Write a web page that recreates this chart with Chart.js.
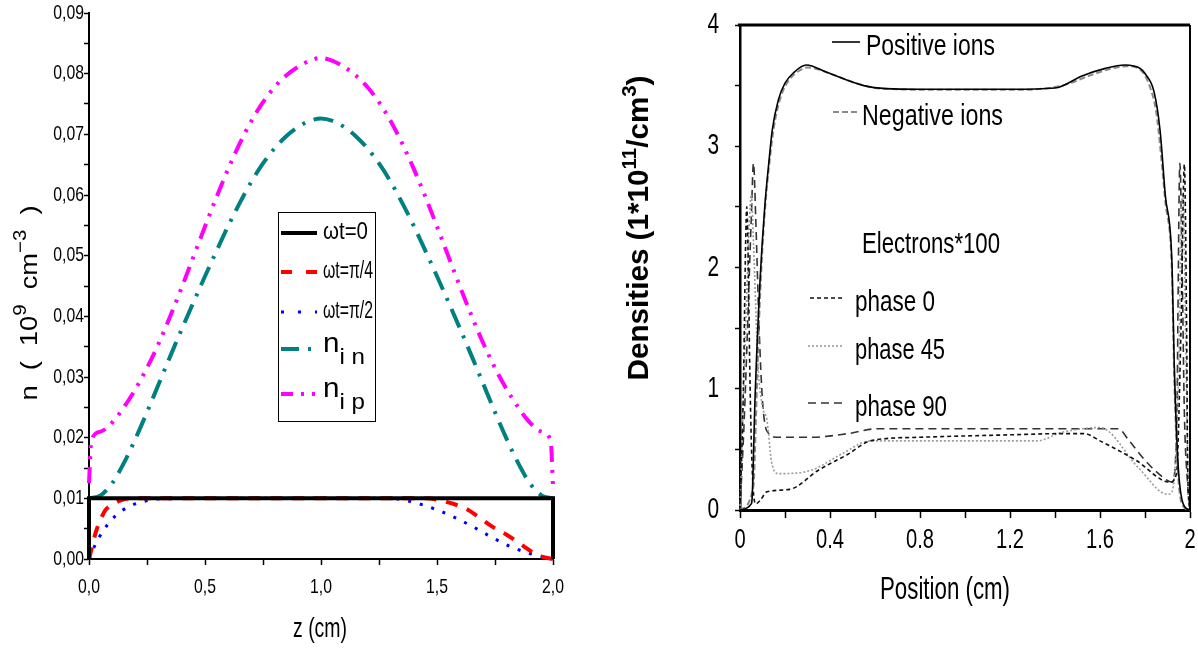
<!DOCTYPE html>
<html>
<head>
<meta charset="utf-8">
<script src="https://cdn.jsdelivr.net/npm/chart.js@4.4.1/dist/chart.umd.min.js"></script>
<style>
  body { margin: 0; background: #fff; }
  #left { position: absolute; left: 0; top: 0; width: 600px; height: 650px; }
  #right { position: absolute; left: 600px; top: 0; width: 598px; height: 650px; }
</style>
</head>
<body>
<div id="left"><canvas id="c1" width="600" height="650"></canvas></div>
<div id="right"><canvas id="c2" width="598" height="650"></canvas></div>
<script>
// ---- left panel data: n (10^9 cm^-3) vs z (cm)
const zWt0 = [0, 0, 2, 2];
const nWt0 = [0, 0.01, 0.01, 0];

const zPi4 = [0, 0.01, 0.03, 0.05, 0.07, 0.09, 0.11, 0.14, 0.19, 0.3, 0.6, 1.0, 1.3, 1.45, 1.5, 1.56, 1.62, 1.68, 1.74, 1.8, 1.87, 1.92, 1.96, 2.0];
const nPi4 = [0, 0.0015, 0.0045, 0.0065, 0.008, 0.0087, 0.0092, 0.0097, 0.01, 0.01, 0.01, 0.01, 0.01, 0.01, 0.0098, 0.0092, 0.0084, 0.0069, 0.0053, 0.004, 0.0022, 0.0009, 0.0003, 0];

const zPi2 = [0, 0.02, 0.04, 0.064, 0.1, 0.144, 0.18, 0.22, 0.3, 0.6, 1.0, 1.3, 1.37, 1.44, 1.52, 1.59, 1.67, 1.74, 1.82, 1.9, 1.98, 2.0];
const nPi2 = [0, 0.0018, 0.0033, 0.0048, 0.0066, 0.008, 0.0088, 0.0093, 0.0099, 0.01, 0.01, 0.01, 0.0096, 0.0089, 0.0078, 0.0066, 0.005, 0.0035, 0.002, 0.0009, 0.0002, 0];

const zIn = [0, 0.05, 0.1, 0.15, 0.2, 0.25, 0.3, 0.35, 0.4, 0.45, 0.5, 0.55, 0.6, 0.65, 0.7, 0.75, 0.8, 0.85, 0.9, 0.95, 1.0,
             1.05, 1.1, 1.15, 1.2, 1.25, 1.3, 1.35, 1.4, 1.45, 1.5, 1.55, 1.6, 1.65, 1.7, 1.75, 1.8, 1.85, 1.9, 1.95, 2.0];
const nIn = [0.01, 0.0105, 0.0125, 0.0158, 0.0198, 0.0242, 0.0288, 0.0334, 0.0379, 0.0423, 0.0466, 0.0508, 0.0549, 0.0587, 0.0622, 0.0652, 0.0677, 0.0697, 0.0712, 0.0722, 0.0726,
             0.0722, 0.0712, 0.0697, 0.0677, 0.0652, 0.0622, 0.0587, 0.0549, 0.0508, 0.0466, 0.0423, 0.0379, 0.0334, 0.0288, 0.0242, 0.0198, 0.0158, 0.0125, 0.0105, 0.01];

const zIp = [0, 0.01, 0.05, 0.1, 0.15, 0.2, 0.25, 0.3, 0.35, 0.4, 0.45, 0.5, 0.55, 0.6, 0.65, 0.7, 0.75, 0.8, 0.85, 0.9, 0.95, 1.0,
             1.05, 1.1, 1.15, 1.2, 1.25, 1.3, 1.35, 1.4, 1.45, 1.5, 1.55, 1.6, 1.65, 1.7, 1.75, 1.8, 1.85, 1.9, 1.95, 1.99, 2.0];
const nIp = [0.0125, 0.0195, 0.021, 0.0225, 0.025, 0.028, 0.0315, 0.0355, 0.04, 0.0448, 0.0498, 0.0548, 0.0597, 0.0643, 0.0685, 0.0722, 0.0753, 0.0778, 0.0797, 0.0811, 0.0821, 0.0826,
             0.0821, 0.0811, 0.0797, 0.0778, 0.0753, 0.0722, 0.0685, 0.0643, 0.0597, 0.0548, 0.0498, 0.0448, 0.04, 0.0355, 0.0315, 0.028, 0.025, 0.0225, 0.021, 0.0195, 0.012];

const zTicks = [0, 0.25, 0.5, 0.75, 1.0, 1.25, 1.5, 1.75, 2.0];
const zTickLabels = ['0,0', '', '0,5', '', '1,0', '', '1,5', '', '2,0'];
const nTicks = [0, 0.005, 0.01, 0.015, 0.02, 0.025, 0.03, 0.035, 0.04, 0.045, 0.05, 0.055, 0.06, 0.065, 0.07, 0.075, 0.08, 0.085, 0.09];
const nTickLabels = ['0,00', '', '0,01', '', '0,02', '', '0,03', '', '0,04', '', '0,05', '', '0,06', '', '0,07', '', '0,08', '', '0,09'];

// ---- right panel data: densities vs position (cm)
const posX = [0, 0.05, 0.054, 0.067, 0.089, 0.11, 0.13, 0.143, 0.17, 0.2, 0.24, 0.295, 0.385, 0.55, 0.65, 0.8, 1.2, 1.4, 1.52, 1.62, 1.71, 1.78, 1.8, 1.84, 1.867, 1.89, 1.92, 1.93, 1.947, 1.97, 2.0];
const posY = [0, 0.05, 0.1, 0.93, 1.89, 2.5, 2.9, 3.13, 3.38, 3.52, 3.61, 3.67, 3.61, 3.5, 3.475, 3.47, 3.47, 3.48, 3.58, 3.64, 3.67, 3.64, 3.6, 3.45, 3.13, 2.6, 2.03, 1.2, 0.38, 0.05, 0];

const negX = [0, 0.06, 0.07, 0.08, 0.09, 0.11, 0.13, 0.15, 0.18, 0.22, 0.28, 0.3, 0.4, 0.5, 0.6, 0.7, 0.8, 1.2, 1.35, 1.45, 1.55, 1.65, 1.72, 1.78, 1.82, 1.85, 1.87, 1.89, 1.92, 1.93, 1.947, 1.97, 2.0];
const negY = [0, 0.2, 0.7, 1.3, 1.8, 2.45, 2.85, 3.15, 3.4, 3.55, 3.64, 3.65, 3.6, 3.53, 3.48, 3.47, 3.465, 3.465, 3.475, 3.51, 3.58, 3.64, 3.66, 3.63, 3.5, 3.28, 2.95, 2.55, 1.95, 1.1, 0.3, 0.03, 0];

const ph0X = [0, 0.015, 0.025, 0.03, 0.035, 0.045, 0.055, 0.07, 0.09, 0.12, 0.22, 0.35, 0.48, 0.58, 0.8, 1.2, 1.43, 1.53, 1.6, 1.76, 1.91, 1.94, 1.96, 1.975, 1.985, 1.99, 2.0];
const ph0Y = [0, 1.0, 2.2, 2.5, 2.2, 1.0, 0.3, 0.05, 0.08, 0.15, 0.17, 0.33, 0.46, 0.57, 0.6, 0.62, 0.63, 0.63, 0.57, 0.41, 0.23, 0.3, 1.5, 2.85, 1.5, 0.3, 0];

const ph45X = [0, 0.02, 0.04, 0.05, 0.06, 0.08, 0.1, 0.12, 0.14, 0.17, 0.32, 0.45, 0.58, 1.32, 1.43, 1.6, 1.77, 1.9, 1.92, 1.95, 1.96, 1.97, 1.98, 1.99, 2.0];
const ph45Y = [0, 1.2, 2.3, 2.6, 2.2, 1.2, 0.85, 0.74, 0.4, 0.3, 0.33, 0.46, 0.57, 0.57, 0.64, 0.68, 0.35, 0.13, 0.15, 1.2, 2.4, 2.6, 1.5, 0.4, 0];

const ph90X = [0, 0.02, 0.05, 0.06, 0.07, 0.085, 0.1, 0.12, 0.17, 0.32, 0.48, 0.61, 1.68, 1.73, 1.8, 1.88, 1.92, 1.94, 1.955, 1.965, 1.975, 1.99, 2.0];
const ph90Y = [0, 0.8, 2.4, 2.86, 2.4, 1.5, 0.9, 0.65, 0.6, 0.6, 0.63, 0.67, 0.67, 0.57, 0.41, 0.27, 0.23, 0.6, 2.86, 2.0, 0.8, 0.2, 0];

const posTicks = [0, 0.2, 0.4, 0.6, 0.8, 1.0, 1.2, 1.4, 1.6, 1.8, 2.0];
const posTickLabels = ['0', '', '0.4', '', '0.8', '', '1.2', '', '1.6', '', '2'];
const denTicks = [0, 0.5, 1, 1.5, 2, 2.5, 3, 3.5, 4];
const denTickLabels = ['0', '', '1', '', '2', '', '3', '', '4'];

const SANS = "'Liberation Sans', Arial, sans-serif";

function pts(xs, ys) { return xs.map((x, i) => ({ x: x, y: ys[i] })); }

// text squeezed horizontally, like the narrow face of the original
function narrow(ctx, text, x, y, size, sx, align, weight) {
  ctx.save();
  ctx.font = (weight || 'normal') + ' ' + size + 'px ' + SANS;
  ctx.textBaseline = 'middle';
  ctx.textAlign = align || 'left';
  ctx.translate(x, y);
  ctx.scale(sx, 1);
  ctx.fillStyle = '#000';
  ctx.fillText(text, 0, 0);
  ctx.restore();
}

// text pieces (with super/subscripts) stretched to a given width; rot = rotate -90deg
function pieces(ctx, parts, cx, cy, width, rot) {
  ctx.save();
  let total = 0;
  parts.forEach(p => { ctx.font = p.w + ' ' + p.s + 'px ' + SANS; total += ctx.measureText(p.t).width; });
  ctx.translate(cx, cy);
  if (rot) ctx.rotate(-Math.PI / 2);
  ctx.scale(width / total, 1);
  ctx.textBaseline = 'middle';
  ctx.textAlign = 'left';
  ctx.fillStyle = '#000';
  let x = -total / 2;
  parts.forEach(p => {
    ctx.font = p.w + ' ' + p.s + 'px ' + SANS;
    ctx.fillText(p.t, x, p.dy || 0);
    x += ctx.measureText(p.t).width;
  });
  ctx.restore();
}

function P(t, s, dy, w) { return { t: t, s: s, dy: dy || 0, w: w || 'normal' }; }

// ---------- left chart ----------
const leftExtras = {
  id: 'leftExtras',
  afterDraw(chart) {
    const ctx = chart.ctx;
    const ds = chart.data.datasets;
    const sx = chart.scales.x, sy = chart.scales.y;
    // tick labels
    zTicks.forEach((v, i) => { if (zTickLabels[i]) narrow(ctx, zTickLabels[i], sx.getPixelForValue(v), 587, 21, 0.75, 'center'); });
    nTicks.forEach((v, i) => { if (nTickLabels[i]) narrow(ctx, nTickLabels[i], 84, sy.getPixelForValue(v), 21, 0.75, 'right'); });
    // axis titles
    pieces(ctx, [P('z (cm)', 27)], 320, 630, 54, false);
    pieces(ctx, [P('n  (  10', 24), P('9', 18, -9), P('  cm', 24), P('−3', 18, -9), P('  )', 24)], 30, 303, 195, true);
    // legend
    ctx.save();
    ctx.fillStyle = '#fff';
    ctx.fillRect(278, 212, 98, 210);
    ctx.strokeStyle = '#000';
    ctx.lineWidth = 1;
    ctx.strokeRect(278.5, 212.5, 97, 209);
    const rowY = [233, 272, 312, 349, 394];
    ds.forEach((d, i) => {
      const y = rowY[i];
      ctx.strokeStyle = d.borderColor;
      ctx.lineWidth = d.borderWidth;
      ctx.setLineDash(d.legendDash || d.borderDash || []);
      ctx.beginPath();
      ctx.moveTo(281, y);
      ctx.lineTo(317, y);
      ctx.stroke();
      ctx.setLineDash([]);
      const lab = d.legendParts;
      if (lab.length === 1) {
        const w = lab[0].length > 4 ? 50 : 45;
        pieces(ctx, [P(lab[0], 23)], 323 + w / 2, y, w, false);
      } else {
        pieces(ctx, [P(lab[0], 27, -4), P(lab[1], 22, 9)], 323 + 21, y, 42, false);
      }
    });
    ctx.restore();
  }
};

new Chart(document.getElementById('c1'), {
  type: 'line',
  data: {
    datasets: [
      { label: 'ωt=0', legendParts: ['ωt=0'], data: pts(zWt0, nWt0), borderColor: '#000000', borderWidth: 4, tension: 0 },
      { label: 'ωt=π/4', legendParts: ['ωt=π/4'], data: pts(zPi4, nPi4), borderColor: '#ff0000', borderWidth: 4, borderDash: [12, 10], legendDash: [11, 14], cubicInterpolationMode: 'monotone' },
      { label: 'ωt=π/2', legendParts: ['ωt=π/2'], data: pts(zPi2, nPi2), borderColor: '#0000ff', borderWidth: 3, borderDash: [3, 9], legendDash: [3, 14], cubicInterpolationMode: 'monotone' },
      { label: 'n i n', legendParts: ['n', 'i n'], data: pts(zIn, nIn), borderColor: '#008080', borderWidth: 4, borderDash: [20, 9, 3, 9], legendDash: [18, 9, 3, 9], cubicInterpolationMode: 'monotone' },
      { label: 'n i p', legendParts: ['n', 'i p'], data: pts(zIp, nIp), borderColor: '#ff00ff', borderWidth: 4, borderDash: [16, 8, 3, 8, 3, 8], legendDash: [12, 8, 3, 8, 3, 8], cubicInterpolationMode: 'monotone' }
    ]
  },
  options: {
    responsive: false,
    animation: false,
    devicePixelRatio: 1,
    layout: { padding: { top: 13, right: 47, left: 0, bottom: 0 } },
    elements: { point: { radius: 0 } },
    datasets: { line: { clip: false, fill: false } },
    plugins: { legend: { display: false }, tooltip: { enabled: false } },
    scales: {
      x: {
        type: 'linear', min: 0, max: 2,
        afterBuildTicks: s => { s.ticks = zTicks.map(v => ({ value: v })); },
        afterFit: s => { s.height = 91; },
        ticks: { display: false },
        grid: { drawOnChartArea: false, drawTicks: true, tickLength: 6, color: '#000', tickWidth: 1.5 },
        border: { display: true, color: '#000', width: 2 }
      },
      y: {
        type: 'linear', min: 0, max: 0.09,
        afterBuildTicks: s => { s.ticks = nTicks.map(v => ({ value: v })); },
        afterFit: s => { s.width = 89; },
        ticks: { display: false },
        grid: { drawOnChartArea: false, drawTicks: true, tickLength: 5, color: '#000', tickWidth: 1.5 },
        border: { display: true, color: '#000', width: 2 }
      }
    }
  },
  plugins: [leftExtras]
});

// ---------- right chart ----------
const rightExtras = {
  id: 'rightExtras',
  afterDraw(chart) {
    const ctx = chart.ctx;
    const a = chart.chartArea;
    const ds = chart.data.datasets;
    const sx = chart.scales.x, sy = chart.scales.y;
    ctx.save();
    // frame: top and right edges
    ctx.strokeStyle = '#000';
    ctx.lineWidth = 3;
    ctx.beginPath(); ctx.moveTo(a.left - 2, a.top); ctx.lineTo(a.right, a.top); ctx.stroke();
    ctx.lineWidth = 2;
    ctx.beginPath(); ctx.moveTo(a.right, a.top); ctx.lineTo(a.right, a.bottom); ctx.stroke();
    ctx.restore();
    // tick labels
    posTicks.forEach((v, i) => { if (posTickLabels[i]) narrow(ctx, posTickLabels[i], sx.getPixelForValue(v), 540, 28, 0.72, 'center'); });
    denTicks.forEach((v, i) => { if (denTickLabels[i]) narrow(ctx, denTickLabels[i], 119, sy.getPixelForValue(v), 29, 0.72, 'right'); });
    // axis titles
    pieces(ctx, [P('Position (cm)', 31)], 345, 590, 130, false);
    pieces(ctx, [P('Densities (1*10', 29, 0, 'bold'), P('11', 20, -10, 'bold'), P('/cm', 29, 0, 'bold'), P('3', 20, -10, 'bold'), P(')', 29, 0, 'bold')], 40, 228, 305, true);
    // legend
    const rows = [
      { i: 0, x1: 232, x2: 260, y: 42, tx: 266, w: 129 },
      { i: 1, x1: 233, x2: 257, y: 112, tx: 262, w: 141 },
      { i: 2, x1: 210, x2: 242, y: 298, tx: 255, w: 80 },
      { i: 3, x1: 208, x2: 242, y: 346, tx: 255, w: 90 },
      { i: 4, x1: 208, x2: 242, y: 403, tx: 255, w: 92 }
    ];
    ctx.save();
    rows.forEach(r => {
      const d = ds[r.i];
      ctx.strokeStyle = d.borderColor;
      ctx.lineWidth = d.borderWidth;
      ctx.setLineDash(d.borderDash || []);
      ctx.beginPath(); ctx.moveTo(r.x1, r.y); ctx.lineTo(r.x2, r.y); ctx.stroke();
      ctx.setLineDash([]);
      pieces(ctx, [P(d.label, 30)], r.tx + r.w / 2, r.y + 5, r.w, false);
    });
    ctx.restore();
    pieces(ctx, [P('Electrons*100', 30)], 262 + 69, 245, 138, false);
  }
};

new Chart(document.getElementById('c2'), {
  type: 'line',
  data: {
    datasets: [
      { label: 'Positive ions', data: pts(posX, posY), borderColor: '#000000', borderWidth: 1.6, cubicInterpolationMode: 'monotone' },
      { label: 'Negative ions', data: pts(negX, negY), borderColor: '#8a8a8a', borderWidth: 2, borderDash: [6, 3], cubicInterpolationMode: 'monotone' },
      { label: 'phase 0', data: pts(ph0X, ph0Y), borderColor: '#111111', borderWidth: 1.6, borderDash: [4, 3], cubicInterpolationMode: 'monotone' },
      { label: 'phase 45', data: pts(ph45X, ph45Y), borderColor: '#9a9a9a', borderWidth: 1.6, borderDash: [2, 2], cubicInterpolationMode: 'monotone' },
      { label: 'phase 90', data: pts(ph90X, ph90Y), borderColor: '#333333', borderWidth: 1.6, borderDash: [8, 5], cubicInterpolationMode: 'monotone' }
    ]
  },
  options: {
    responsive: false,
    animation: false,
    devicePixelRatio: 1,
    layout: { padding: { top: 25, right: 8, left: 0, bottom: 0 } },
    elements: { point: { radius: 0 } },
    datasets: { line: { clip: false, fill: false } },
    plugins: { legend: { display: false }, tooltip: { enabled: false } },
    scales: {
      x: {
        type: 'linear', min: 0, max: 2,
        afterBuildTicks: s => { s.ticks = posTicks.map(v => ({ value: v })); },
        afterFit: s => { s.height = 140; },
        ticks: { display: false },
        grid: { drawOnChartArea: false, drawTicks: true, tickLength: 8, color: '#000', tickWidth: 1.5 },
        border: { display: true, color: '#000', width: 3 }
      },
      y: {
        type: 'linear', min: 0, max: 4,
        afterBuildTicks: s => { s.ticks = denTicks.map(v => ({ value: v })); },
        afterFit: s => { s.width = 140; },
        ticks: { display: false },
        grid: { drawOnChartArea: false, drawTicks: true, tickLength: 5, color: '#000', tickWidth: 1.5 },
        border: { display: true, color: '#000', width: 2.5 }
      }
    }
  },
  plugins: [rightExtras]
});
</script>
</body>
</html>
